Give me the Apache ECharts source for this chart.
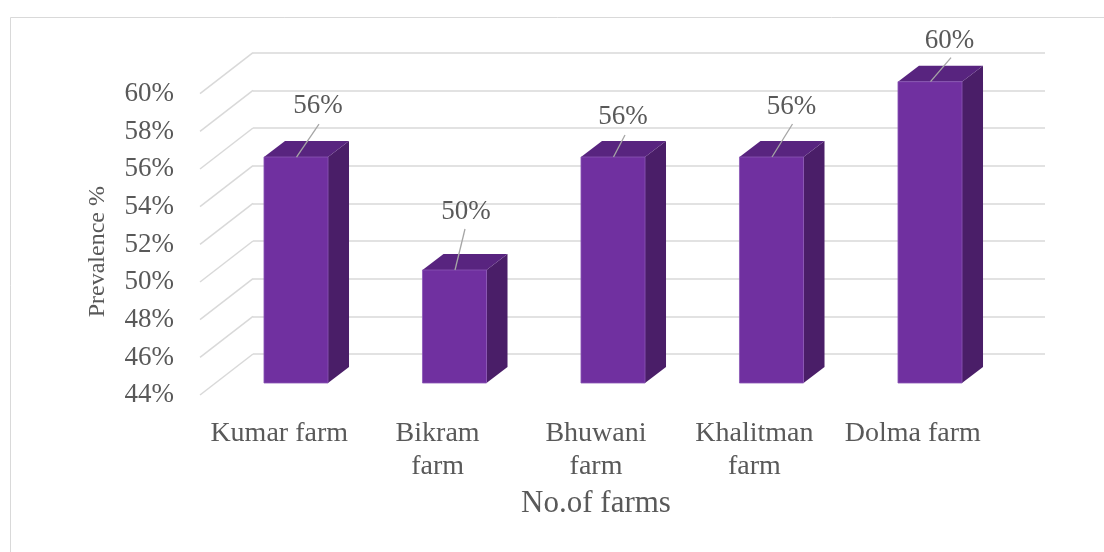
<!DOCTYPE html>
<html>
<head>
<meta charset="utf-8">
<script src="https://cdn.jsdelivr.net/npm/echarts@6/dist/echarts.min.js"></script>
<style>html,body{margin:0;padding:0;background:#fff;}#c{width:1104px;height:552px;}</style>
</head>
<body>
<div id="c"></div>
<script>
const categories = ['Kumar farm', 'Bikram\nfarm', 'Bhuwani\nfarm', 'Khalitman\nfarm', 'Dolma farm'];
const prevalence = [56, 50, 56, 56, 60];
const tickValues = [44, 46, 48, 50, 52, 54, 56, 58, 60];
const yMin = 44, yMax = 60, yStep = 2;

// style: label nudges relative to bar top (label centre, leader-line top)
const labelNudge = [[22, -51, 23, -33], [11.5, -58, 10.5, -41], [10, -40, 12, -22], [20, -50, 21, -33], [19.5, -41, 21, -24]];
const FONT = 'Liberation Serif';
const TXT = '#595959';
const DX = 21, DY = -16;       // bar depth offset
const WX = -53, WY = 41;       // back wall -> front edge offset

const chart = echarts.init(document.getElementById('c'), null, {renderer: 'canvas'});

const gridH = 301.3;
const option = {
  animation: false,
  backgroundColor: '#ffffff',
  graphic: [{
    type: 'rect', silent: true, z: -10,
    shape: {x: 10.5, y: 17.5, width: 1200, height: 600},
    style: {fill: 'none', stroke: '#D9D9D9', lineWidth: 1}
  }],
  grid: [
    {left: 253, top: 52.7, width: 792, height: gridH, outerBoundsMode: 'none'},
    {left: 216.75, top: 81.7, width: 792.5, height: gridH, outerBoundsMode: 'none'},
    {left: 200, top: 94, width: 792, height: gridH, outerBoundsMode: 'none'}
  ],
  xAxis: [
    {gridIndex: 0, type: 'value', min: 0, max: 1, show: false},
    {gridIndex: 1, type: 'category', data: categories, show: false},
    {gridIndex: 2, type: 'category', data: categories,
     axisLine: {show: false}, axisTick: {show: false},
     axisLabel: {fontFamily: FONT, fontSize: 28, color: TXT, margin: 22, lineHeight: 33, interval: 0},
     name: 'No.of farms', nameLocation: 'middle', nameGap: 92,
     nameTextStyle: {fontFamily: FONT, fontSize: 31, color: TXT}}
  ],
  yAxis: [
    {gridIndex: 0, type: 'value', min: yMin, max: yMax, interval: yStep,
     axisLine: {show: false}, axisTick: {show: false}, axisLabel: {show: false},
     splitLine: {show: true, lineStyle: {color: '#D9D9D9', width: 1.5}}},
    {gridIndex: 1, type: 'value', min: yMin, max: yMax, interval: yStep, show: false, splitLine: {show: false}},
    {gridIndex: 2, type: 'value', min: yMin, max: yMax, interval: yStep,
     axisLine: {show: false}, axisTick: {show: false}, splitLine: {show: false},
     axisLabel: {fontFamily: FONT, fontSize: 27, color: TXT, margin: 26, formatter: '{value}%'},
     name: 'Prevalence %', nameLocation: 'middle', nameGap: 90,
     nameTextStyle: {fontFamily: FONT, fontSize: 24, color: TXT, padding: [0, 14, 0, 0]}}
  ],
  series: [
    {
      type: 'custom', xAxisIndex: 0, yAxisIndex: 0, silent: true,
      data: tickValues.map(v => [0, v]),
      renderItem: function (params, api) {
        const p = api.coord([0, api.value(1)]);
        return {type: 'line', shape: {x1: p[0] + WX, y1: p[1] + WY, x2: p[0], y2: p[1]},
                style: {stroke: '#D9D9D9', lineWidth: 1.5}};
      }
    },
    {
      type: 'custom', xAxisIndex: 1, yAxisIndex: 1, silent: true,
      data: prevalence.map((v, i) => [i, v]),
      renderItem: function (params, api) {
        const i = api.value(0), v = api.value(1);
        const base = api.coord([i, yMin]);
        const top = api.coord([i, v]);
        const w = api.size([1, 0])[0] * 0.404;
        const x0 = top[0] - w / 2, x1 = top[0] + w / 2;
        const n = labelNudge[i];
        return {type: 'group', children: [
          {type: 'polygon', shape: {points: [[x1, top[1]], [x1 + DX, top[1] + DY], [x1 + DX, base[1] + DY], [x1, base[1]]]},
           style: {fill: '#4A1E68'}},
          {type: 'polygon', shape: {points: [[x0, top[1]], [x0 + DX, top[1] + DY], [x1 + DX, top[1] + DY], [x1, top[1]]]},
           style: {fill: '#58247F'}},
          {type: 'rect', shape: {x: x0, y: top[1], width: w, height: base[1] - top[1]},
           style: {fill: '#7030A0', stroke: '#8A57B5', lineWidth: 0.8}},
          {type: 'line', shape: {x1: top[0] + n[2], y1: top[1] + n[3], x2: top[0] + 0.5, y2: top[1]},
           style: {stroke: '#A6A6A6', lineWidth: 1.3}},
          {type: 'text', x: top[0] + n[0], y: top[1] + n[1],
           style: {text: v + '%', fontFamily: FONT, fontSize: 27, fill: TXT, align: 'center', verticalAlign: 'middle'}}
        ]};
      }
    }
  ]
};
chart.setOption(option);
</script>
</body>
</html>
